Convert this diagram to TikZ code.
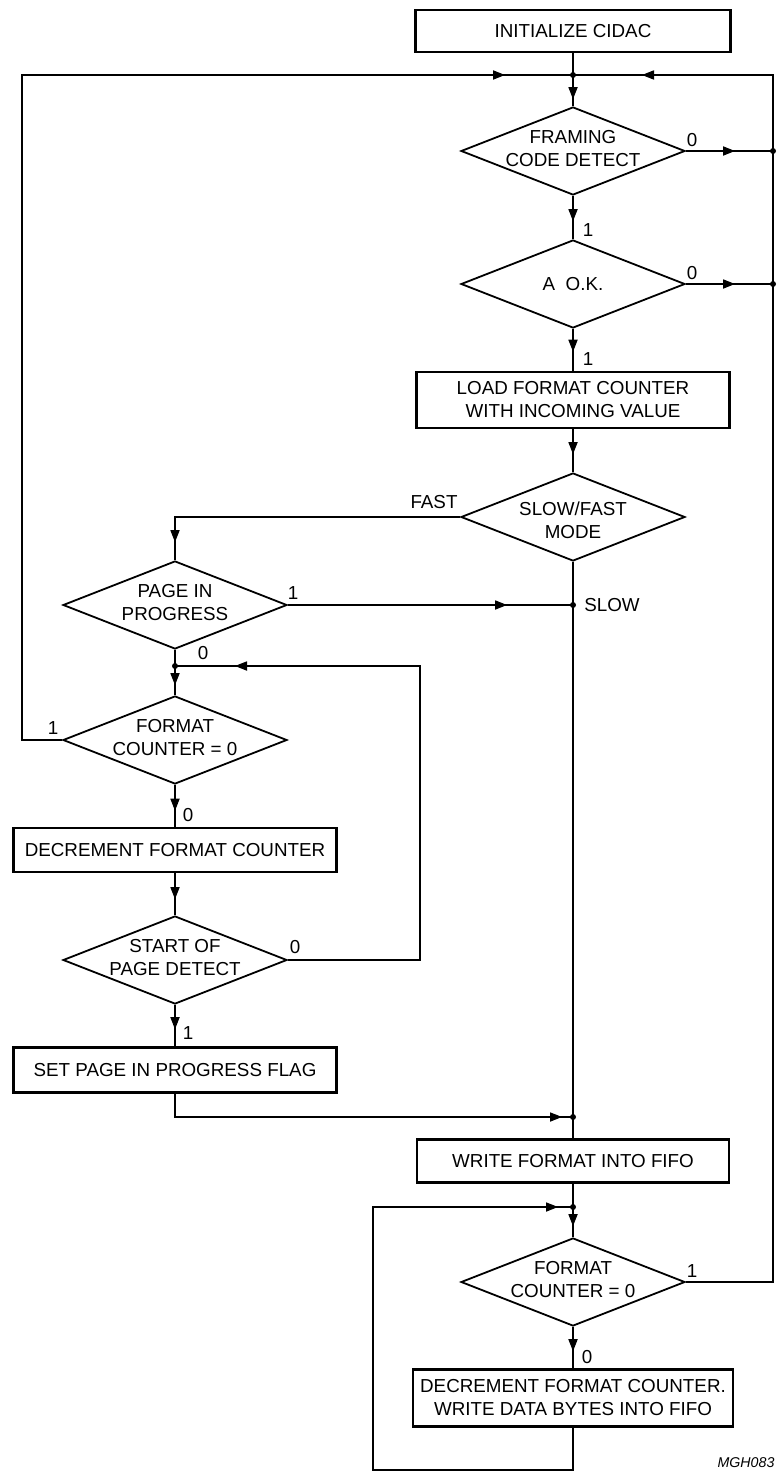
\documentclass[tikz,border=0pt]{standalone}
\usepackage{fontspec}
\setmainfont{Liberation Sans}
\usetikzlibrary{shapes.geometric,arrows.meta,decorations.markings}

\begin{document}
\begin{tikzpicture}[x=0.5pt, y=-0.5pt, line width=0.55pt,
    font=\fontsize{9.4}{11.5}\selectfont,
    box/.style={rectangle, draw, line width=1.3pt, inner sep=0pt, align=center},
    dec/.style={diamond, draw, line width=0.9pt, inner sep=0pt, minimum width=112pt, minimum height=44pt},
    txt/.style={inner sep=0pt, align=center},
    lbl/.style={inner sep=0pt},
    arr/.style={postaction={decorate, decoration={markings, mark=at position #1 with {\arrow{Triangle[length=6pt, width=4.6pt]}}}}}]
  \useasboundingbox (0,0) rectangle (780,1477);

  % 箱
  \node[box, minimum width=157.5pt, minimum height=21pt] (init) at (573,31) {INITIALIZE CIDAC};
  \node[box, minimum width=156.5pt, minimum height=28pt] (load) at (573,400) {LOAD FORMAT COUNTER\\WITH INCOMING VALUE};
  \node[box, minimum width=161.5pt, minimum height=22pt] (decl) at (175,850) {DECREMENT FORMAT COUNTER};
  \node[box, minimum width=161.5pt, minimum height=22.5pt] (flag) at (175,1070) {SET PAGE IN PROGRESS FLAG};
  \node[box, minimum width=156pt, minimum height=21.5pt] (wfmt) at (573,1161) {WRITE FORMAT INTO FIFO};
  \node[box, minimum width=160pt, minimum height=28.5pt] (wdat) at (573,1398) {DECREMENT FORMAT COUNTER.\\WRITE DATA BYTES INTO FIFO};

  % 菱形
  \node[dec] (frm) at (573,151) {};
  \node[dec] (aok) at (573,284) {};
  \node[dec] (mode) at (573,517) {};
  \node[dec] (page) at (175,605) {};
  \node[dec] (cntl) at (175,740) {};
  \node[dec] (sop) at (175,960) {};
  \node[dec] (cntr) at (573,1282) {};

  % 値を書く
  \node[txt] (tfrm) at (573,149) {FRAMING\\CODE DETECT};
  \node[txt] (taok) at (573,284) {A\ \ O.K.};
  \node[txt] (tmode) at (573,520) {SLOW/FAST\\MODE};
  \node[txt] (tpage) at (175,603) {PAGE IN\\PROGRESS};
  \node[txt] (tcntl) at (175,738) {FORMAT\\COUNTER = 0};
  \node[txt] (tsop) at (175,958) {START OF\\PAGE DETECT};
  \node[txt] (tcntr) at (573,1280) {FORMAT\\COUNTER = 0};

  % 分岐点
  \coordinate (j1) at (573,75);
  \coordinate (r1) at (773,151);
  \coordinate (r2) at (773,284);
  \coordinate (s1) at (573,605);
  \coordinate (j2) at (175,666);
  \coordinate (j4) at (573,1117);
  \coordinate (j5) at (573,1207);
  \coordinate (cl) at (22,75);
  \coordinate (cr) at (773,75);
  \coordinate (cm) at (420,666);
  \coordinate (cb) at (373,1470);

  % 線を引く
  \draw (init) -- (j1);
  \draw[arr=-3.5pt] (j1) -- (frm.north);
  \draw[arr=-19pt] (frm.east) -- (r1);
  \draw[arr=-9pt] (frm.south) -- (aok.north);
  \draw[arr=-19pt] (aok.east) -- (r2);
  \draw[arr=-9.5pt] (aok.south) -- (load.north);
  \draw[arr=-9pt] (load.south) -- (mode.north);
  \draw[arr=-9pt] (mode.west) -| (page.north);
  \draw[arr=-33pt] (page.east) -- (s1);
  \draw (mode.south) -- (j4);
  \draw (page.south) -- (j2);
  \draw[arr=-5pt] (j2) -- (cntl.north);
  \draw[arr=-34pt] (cntl.west) -| (cl) -- (j1);
  \draw[arr=-8pt] (cntl.south) -- (decl.north);
  \draw[arr=-8pt] (decl.south) -- (sop.north);
  \draw[arr=-30pt] (sop.east) -| (cm) -- (j2);
  \draw[arr=-8.5pt] (sop.south) -- (flag.north);
  \draw[arr=-5.5pt] (flag.south) |- (j4);
  \draw (j4) -- (wfmt.north);
  \draw (wfmt.south) -- (j5);
  \draw[arr=-5.5pt] (j5) -- (cntr.north);
  \draw[arr=-8.5pt] (cntr.south) -- (wdat.north);
  \draw[arr=-7.5pt] (wdat.south) |- (cb) |- (j5);
  \draw[arr=-34.5pt] (cntr.east) -| (cr) -- (j1);

  \foreach \p in {j1,r1,r2,s1,j2,j4,j5}
    \fill (\p) circle (1.5pt);

  % ラベル
  \node[lbl] (l1) at (692,140) {0};
  \node[lbl] (l2) at (588,230) {1};
  \node[lbl] (l3) at (692,273) {0};
  \node[lbl] (l4) at (588,359) {1};
  \node[lbl] (l5) at (434,502) {FAST};
  \node[lbl] (l6) at (612,605) {SLOW};
  \node[lbl] (l7) at (293,593) {1};
  \node[lbl] (l8) at (203,653) {0};
  \node[lbl] (l9) at (53,728) {1};
  \node[lbl] (l10) at (188,815) {0};
  \node[lbl] (l11) at (295,947) {0};
  \node[lbl] (l12) at (188,1033) {1};
  \node[lbl] (l13) at (692,1271) {1};
  \node[lbl] (l14) at (587,1357) {0};
  \node[lbl, font=\fontsize{7.1}{8}\selectfont\itshape] (code) at (746,1463) {MGH083};
\end{tikzpicture}
\end{document}
